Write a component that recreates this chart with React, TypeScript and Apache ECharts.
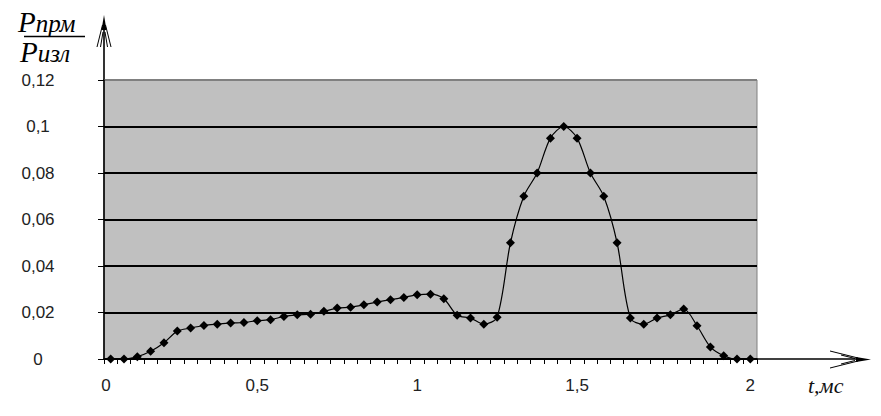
import React, { useEffect, useRef } from "react";
import * as echarts from "echarts";

// Sample index (Excel category axis, 49 samples)
const sampleIndex: string[] = Array.from({ length: 49 }, (_, i) => String(i + 1));

// Tick labels shown on the time axis (category index -> label)
const xTickLabels: Record<number, string> = { 0: "0", 11: "0,5", 23: "1", 35: "1,5", 48: "2" };

// Power ratio P_prm / P_izl
const powerRatio: number[] = [
  0, 0, 0.001, 0.0033, 0.007, 0.012, 0.0133, 0.0144, 0.015, 0.0155,
  0.0157, 0.0165, 0.0169, 0.0183, 0.019, 0.0193, 0.0205, 0.0219, 0.0223, 0.0233,
  0.0245, 0.0255, 0.0265, 0.0276, 0.0279, 0.0259, 0.0188, 0.0176, 0.015, 0.018,
  0.05, 0.07, 0.08, 0.095, 0.1, 0.095, 0.08, 0.07, 0.05, 0.0176,
  0.015, 0.0176, 0.019, 0.0215, 0.0143, 0.0052, 0.0014, 0, 0,
];

const yMin = 0;
const yMax = 0.12;
const yStep = 0.02;

const W = 881;
const H = 416;
const GL = 104;
const GR = 757;
const GT = 80;
const GB = 359;

export default function App() {
  const ref = useRef<HTMLDivElement>(null);
  useEffect(() => {
    document.body.style.margin = "0";
    if (!ref.current) return;
    const chart = echarts.init(ref.current, null, { renderer: "svg" });
    const ink = "#000";
    const SERIF = "'Liberation Serif', 'DejaVu Serif', serif";
    const titleText = (sub: string, x: number, y: number) => ({
      type: "text",
      x,
      y,
      style: {
        text: `{p|P}{s|${sub}}`,
        fill: "#000",
        textAlign: "left",
        textVerticalAlign: "bottom",
        align: "left",
        verticalAlign: "bottom",
        rich: {
          p: { fontSize: 29, fontStyle: "italic", fontFamily: SERIF, fill: "#000", color: "#000", verticalAlign: "bottom" },
          s: { fontSize: 25, fontStyle: "italic", fontFamily: SERIF, fill: "#000", color: "#000", verticalAlign: "bottom" },
        },
      },
    });
    chart.setOption({
      animation: false,
      backgroundColor: "#fff",
      grid: {
        left: GL,
        right: W - GR,
        top: GT,
        bottom: H - GB,
        show: true,
        backgroundColor: "#c0c0c0",
        borderColor: "#808080",
        borderWidth: 1,
      },
      xAxis: {
        type: "category",
        data: sampleIndex,
        boundaryGap: true,
        axisLine: { show: true, lineStyle: { color: ink, width: 1.6 } },
        axisTick: { show: true, interval: 0, length: 5, lineStyle: { color: ink, width: 1 } },
        axisLabel: {
          interval: 0,
          margin: 18,
          fontSize: 17,
          fontFamily: "'Liberation Sans', Arial, sans-serif",
          color: "#222",
          alignMinLabel: "right",
          formatter: (_v: string, idx: number) => xTickLabels[idx] ?? "",
        },
        splitLine: { show: false },
      },
      yAxis: {
        type: "value",
        min: yMin,
        max: yMax,
        interval: yStep,
        axisLine: { show: true, lineStyle: { color: ink, width: 1.6 } },
        axisTick: { show: true, length: 6, lineStyle: { color: ink, width: 1 } },
        axisLabel: {
          margin: 66,
          align: "center",
          fontSize: 17,
          fontFamily: "'Liberation Sans', Arial, sans-serif",
          color: "#222",
          formatter: (v: number) => String(+v.toFixed(4)).replace(".", ","),
        },
        splitLine: {
          show: true,
          lineStyle: { color: [ink, ink, ink, ink, ink, ink, "#808080"], width: 1.8 },
        },
      },
      series: [
        {
          type: "line",
          data: powerRatio,
          smooth: 0.3,
          symbol: "diamond",
          symbolSize: 9,
          showSymbol: true,
          itemStyle: { color: ink },
          lineStyle: { color: ink, width: 1.2 },
          z: 5,
        },
      ],
      graphic: [
        // y axis extension + arrow
        { type: "line", shape: { x1: GL, y1: GT, x2: GL, y2: 22 }, style: { stroke: ink, lineWidth: 1.6 } },
        { type: "polygon", shape: { points: [[GL, 15], [GL - 2.5, 30], [GL + 2.5, 30]] }, style: { fill: ink } },
        { type: "line", shape: { x1: GL - 1.5, y1: 25, x2: GL - 7, y2: 47 }, style: { stroke: ink, lineWidth: 1 } },
        { type: "line", shape: { x1: GL + 1.5, y1: 25, x2: GL + 7, y2: 47 }, style: { stroke: ink, lineWidth: 1 } },
        { type: "line", shape: { x1: GL - 1, y1: 32, x2: GL - 3.5, y2: 47 }, style: { stroke: ink, lineWidth: 1 } },
        { type: "line", shape: { x1: GL + 1, y1: 32, x2: GL + 3.5, y2: 47 }, style: { stroke: ink, lineWidth: 1 } },
        // x axis extension + arrow
        { type: "line", shape: { x1: GR, y1: GB, x2: 862, y2: GB }, style: { stroke: ink, lineWidth: 1.6 } },
        { type: "polygon", shape: { points: [[871, GB + 0.5], [856, GB - 2], [856, GB + 3]] }, style: { fill: ink } },
        { type: "line", shape: { x1: 858, y1: GB - 1, x2: 830, y2: GB - 8 }, style: { stroke: ink, lineWidth: 1 } },
        { type: "line", shape: { x1: 858, y1: GB + 2, x2: 830, y2: GB + 9 }, style: { stroke: ink, lineWidth: 1 } },
        { type: "line", shape: { x1: 855, y1: GB - 0.5, x2: 841, y2: GB - 4 }, style: { stroke: ink, lineWidth: 1 } },
        { type: "line", shape: { x1: 855, y1: GB + 1.5, x2: 841, y2: GB + 5 }, style: { stroke: ink, lineWidth: 1 } },
        // y axis title (fraction)
        titleText("прм", 18, 36),
        { type: "line", shape: { x1: 24, y1: 36.5, x2: 85, y2: 36.5 }, style: { stroke: "#000", lineWidth: 1.6 } },
        titleText("изл", 20, 66),
        // x axis title
        {
          type: "text",
          x: 808,
          y: 385,
          style: {
            text: "t,мс",
            fontSize: 22,
            fontStyle: "italic",
            fontFamily: SERIF,
            fill: "#111",
            textAlign: "left",
            textVerticalAlign: "middle",
            align: "left",
            verticalAlign: "middle",
          },
        },
      ],
    });
    return () => chart.dispose();
  }, []);
  return <div ref={ref} style={{ width: W, height: H }} />;
}
